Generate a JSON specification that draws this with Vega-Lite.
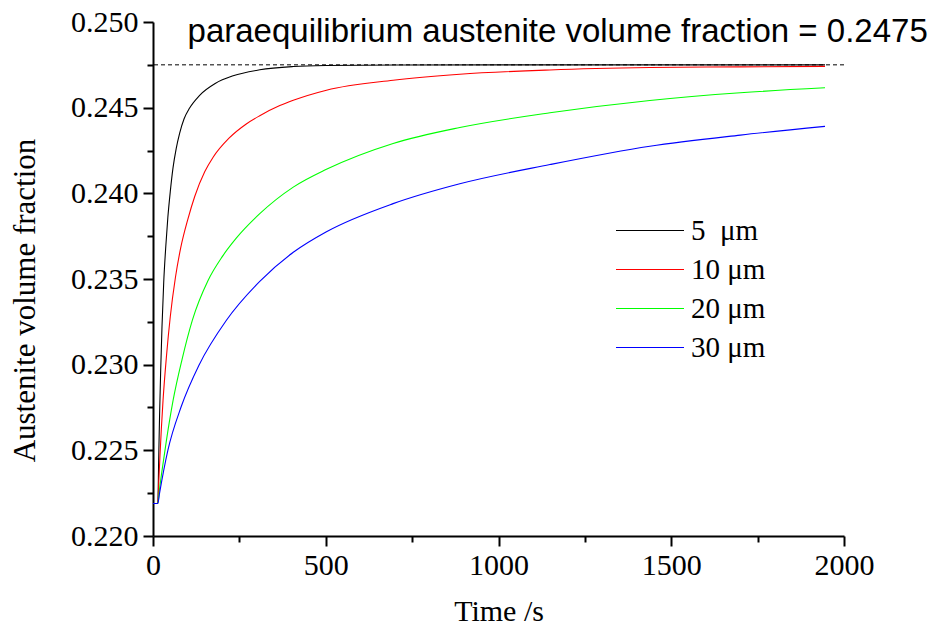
{
  "$schema": "https://vega.github.io/schema/vega-lite/v6.json",
  "width": 691,
  "height": 514,
  "autosize": {"type": "none"},
  "padding": {"left": 153, "top": 22, "right": 87, "bottom": 93},
  "background": "white",
  "config": {
    "view": {"stroke": null},
    "axis": {
      "grid": false,
      "domainColor": "black",
      "domainWidth": 2,
      "tickColor": "black",
      "tickWidth": 2,
      "labelColor": "black",
      "titleColor": "black",
      "labelFont": "Liberation Serif",
      "titleFont": "Liberation Serif",
      "labelFontSize": 30,
      "titleFontSize": 30,
      "titleFontWeight": "normal",
      "labelFlush": false
    },
    "legend": {
      "labelFont": "Liberation Serif",
      "labelFontSize": 29,
      "labelColor": "black"
    }
  },
  "datasets": {
    "curves": [
      {"series": "5 μm", "t": 0, "v": 0.2219},
      {"series": "5 μm", "t": 14, "v": 0.2219},
      {"series": "5 μm", "t": 16.5, "v": 0.2245},
      {"series": "5 μm", "t": 19, "v": 0.2270},
      {"series": "5 μm", "t": 22, "v": 0.2295},
      {"series": "5 μm", "t": 26, "v": 0.2322},
      {"series": "5 μm", "t": 31, "v": 0.2348},
      {"series": "5 μm", "t": 37, "v": 0.2369},
      {"series": "5 μm", "t": 43, "v": 0.2386},
      {"series": "5 μm", "t": 50, "v": 0.2401},
      {"series": "5 μm", "t": 58, "v": 0.2415},
      {"series": "5 μm", "t": 67, "v": 0.2426},
      {"series": "5 μm", "t": 77, "v": 0.2435},
      {"series": "5 μm", "t": 90, "v": 0.24435},
      {"series": "5 μm", "t": 106, "v": 0.24498},
      {"series": "5 μm", "t": 135, "v": 0.24572},
      {"series": "5 μm", "t": 180, "v": 0.24641},
      {"series": "5 μm", "t": 232, "v": 0.24686},
      {"series": "5 μm", "t": 309, "v": 0.24721},
      {"series": "5 μm", "t": 406, "v": 0.2474},
      {"series": "5 μm", "t": 500, "v": 0.24746},
      {"series": "5 μm", "t": 700, "v": 0.24749},
      {"series": "5 μm", "t": 1000, "v": 0.2475},
      {"series": "5 μm", "t": 1945, "v": 0.2475},

      {"series": "10 μm", "t": 0, "v": 0.2219},
      {"series": "10 μm", "t": 14, "v": 0.2219},
      {"series": "10 μm", "t": 17, "v": 0.2233},
      {"series": "10 μm", "t": 20, "v": 0.2246},
      {"series": "10 μm", "t": 24, "v": 0.2262},
      {"series": "10 μm", "t": 29, "v": 0.2279},
      {"series": "10 μm", "t": 39, "v": 0.2305},
      {"series": "10 μm", "t": 50, "v": 0.2328},
      {"series": "10 μm", "t": 65, "v": 0.2351},
      {"series": "10 μm", "t": 80, "v": 0.2368},
      {"series": "10 μm", "t": 101, "v": 0.2385},
      {"series": "10 μm", "t": 121, "v": 0.23983},
      {"series": "10 μm", "t": 150, "v": 0.24127},
      {"series": "10 μm", "t": 174, "v": 0.24211},
      {"series": "10 μm", "t": 220, "v": 0.24322},
      {"series": "10 μm", "t": 270, "v": 0.24405},
      {"series": "10 μm", "t": 309, "v": 0.24453},
      {"series": "10 μm", "t": 367, "v": 0.24512},
      {"series": "10 μm", "t": 406, "v": 0.24543},
      {"series": "10 μm", "t": 502, "v": 0.24602},
      {"series": "10 μm", "t": 695, "v": 0.2466},
      {"series": "10 μm", "t": 888, "v": 0.24695},
      {"series": "10 μm", "t": 1149, "v": 0.2472},
      {"series": "10 μm", "t": 1438, "v": 0.24734},
      {"series": "10 μm", "t": 1700, "v": 0.24738},
      {"series": "10 μm", "t": 1945, "v": 0.24741},

      {"series": "20 μm", "t": 0, "v": 0.2219},
      {"series": "20 μm", "t": 14, "v": 0.2219},
      {"series": "20 μm", "t": 18, "v": 0.2226},
      {"series": "20 μm", "t": 26, "v": 0.2238},
      {"series": "20 μm", "t": 39, "v": 0.2256},
      {"series": "20 μm", "t": 58, "v": 0.2279},
      {"series": "20 μm", "t": 84, "v": 0.2303},
      {"series": "20 μm", "t": 114, "v": 0.2326},
      {"series": "20 μm", "t": 159, "v": 0.2349},
      {"series": "20 μm", "t": 200, "v": 0.23629},
      {"series": "20 μm", "t": 241, "v": 0.23738},
      {"series": "20 μm", "t": 309, "v": 0.23881},
      {"series": "20 μm", "t": 406, "v": 0.24036},
      {"series": "20 μm", "t": 502, "v": 0.2414},
      {"series": "20 μm", "t": 695, "v": 0.24291},
      {"series": "20 μm", "t": 888, "v": 0.24384},
      {"series": "20 μm", "t": 1149, "v": 0.2447},
      {"series": "20 μm", "t": 1438, "v": 0.24542},
      {"series": "20 μm", "t": 1700, "v": 0.24587},
      {"series": "20 μm", "t": 1945, "v": 0.24616},

      {"series": "30 μm", "t": 0, "v": 0.2219},
      {"series": "30 μm", "t": 14, "v": 0.2219},
      {"series": "30 μm", "t": 19, "v": 0.2225},
      {"series": "30 μm", "t": 43, "v": 0.2250},
      {"series": "30 μm", "t": 82, "v": 0.22757},
      {"series": "30 μm", "t": 133, "v": 0.22997},
      {"series": "30 μm", "t": 212, "v": 0.23258},
      {"series": "30 μm", "t": 309, "v": 0.23486},
      {"series": "30 μm", "t": 406, "v": 0.23656},
      {"series": "30 μm", "t": 502, "v": 0.23776},
      {"series": "30 μm", "t": 695, "v": 0.2394},
      {"series": "30 μm", "t": 888, "v": 0.24056},
      {"series": "30 μm", "t": 1149, "v": 0.24168},
      {"series": "30 μm", "t": 1438, "v": 0.24275},
      {"series": "30 μm", "t": 1700, "v": 0.2434},
      {"series": "30 μm", "t": 1945, "v": 0.24391}
    ],
    "equilibrium": [
      {"v": 0.2475, "label": "paraequilibrium austenite volume fraction = 0.2475", "t": 100, "ty": 0.24885}
    ]
  },
  "layer": [
    {
      "data": {"name": "curves"},
      "mark": {"type": "line", "strokeWidth": 1.1, "interpolate": "monotone"},
      "encoding": {
        "x": {
          "field": "t", "type": "quantitative",
          "scale": {"domain": [0, 2000], "nice": false, "zero": false},
          "axis": {
            "title": "Time /s",
            "values": [0, 500, 1000, 1500, 2000],
            "format": "d",
            "tickSize": 10,
            "labelPadding": 4,
            "titlePadding": 16
          }
        },
        "y": {
          "field": "v", "type": "quantitative",
          "scale": {"domain": [0.22, 0.25], "nice": false, "zero": false},
          "axis": {
            "title": "Austenite volume fraction",
            "titleFontSize": 31,
            "values": [0.22, 0.225, 0.23, 0.235, 0.24, 0.245, 0.25],
            "format": ".3f",
            "tickSize": 10,
            "labelPadding": 5,
            "titlePadding": 29,
            "titleY": 278
          }
        },
        "color": {
          "field": "series", "type": "nominal",
          "scale": {
            "domain": ["5 μm", "10 μm", "20 μm", "30 μm"],
            "range": ["#000000", "#ff0000", "#00ff00", "#0000ff"]
          },
          "legend": {
            "title": null,
            "orient": "none",
            "legendX": 462,
            "legendY": 189,
            "padding": 0,
            "symbolType": "stroke",
            "symbolSize": 4624,
            "symbolStrokeWidth": 1.2,
            "labelOffset": 6,
            "clipHeight": 39,
            "rowPadding": 0,
            "labelExpr": "datum.label == '5 μm' ? '5\u00a0\u00a0μm' : datum.label"
          }
        }
      }
    },
    {
      "data": {"name": "equilibrium"},
      "mark": {"type": "rule", "color": "black", "strokeWidth": 1, "strokeDash": [4, 3]},
      "encoding": {
        "y": {
          "field": "v", "type": "quantitative",
          "axis": {
            "orient": "left",
            "title": null,
            "values": [0.2225, 0.2275, 0.2325, 0.2375, 0.2425, 0.2475],
            "labels": false,
            "domain": false,
            "tickSize": 6
          }
        }
      }
    },
    {
      "data": {"name": "equilibrium"},
      "mark": {"type": "text", "font": "Liberation Sans", "fontSize": 33, "align": "left", "baseline": "alphabetic", "color": "black"},
      "encoding": {
        "x": {
          "field": "t", "type": "quantitative",
          "axis": {
            "orient": "bottom",
            "title": null,
            "values": [250, 750, 1250, 1750],
            "labels": false,
            "domain": false,
            "tickSize": 6
          }
        },
        "y": {"field": "ty", "type": "quantitative", "axis": null},
        "text": {"field": "label"}
      }
    }
  ],
  "resolve": {"axis": {"x": "independent", "y": "independent"}}
}
